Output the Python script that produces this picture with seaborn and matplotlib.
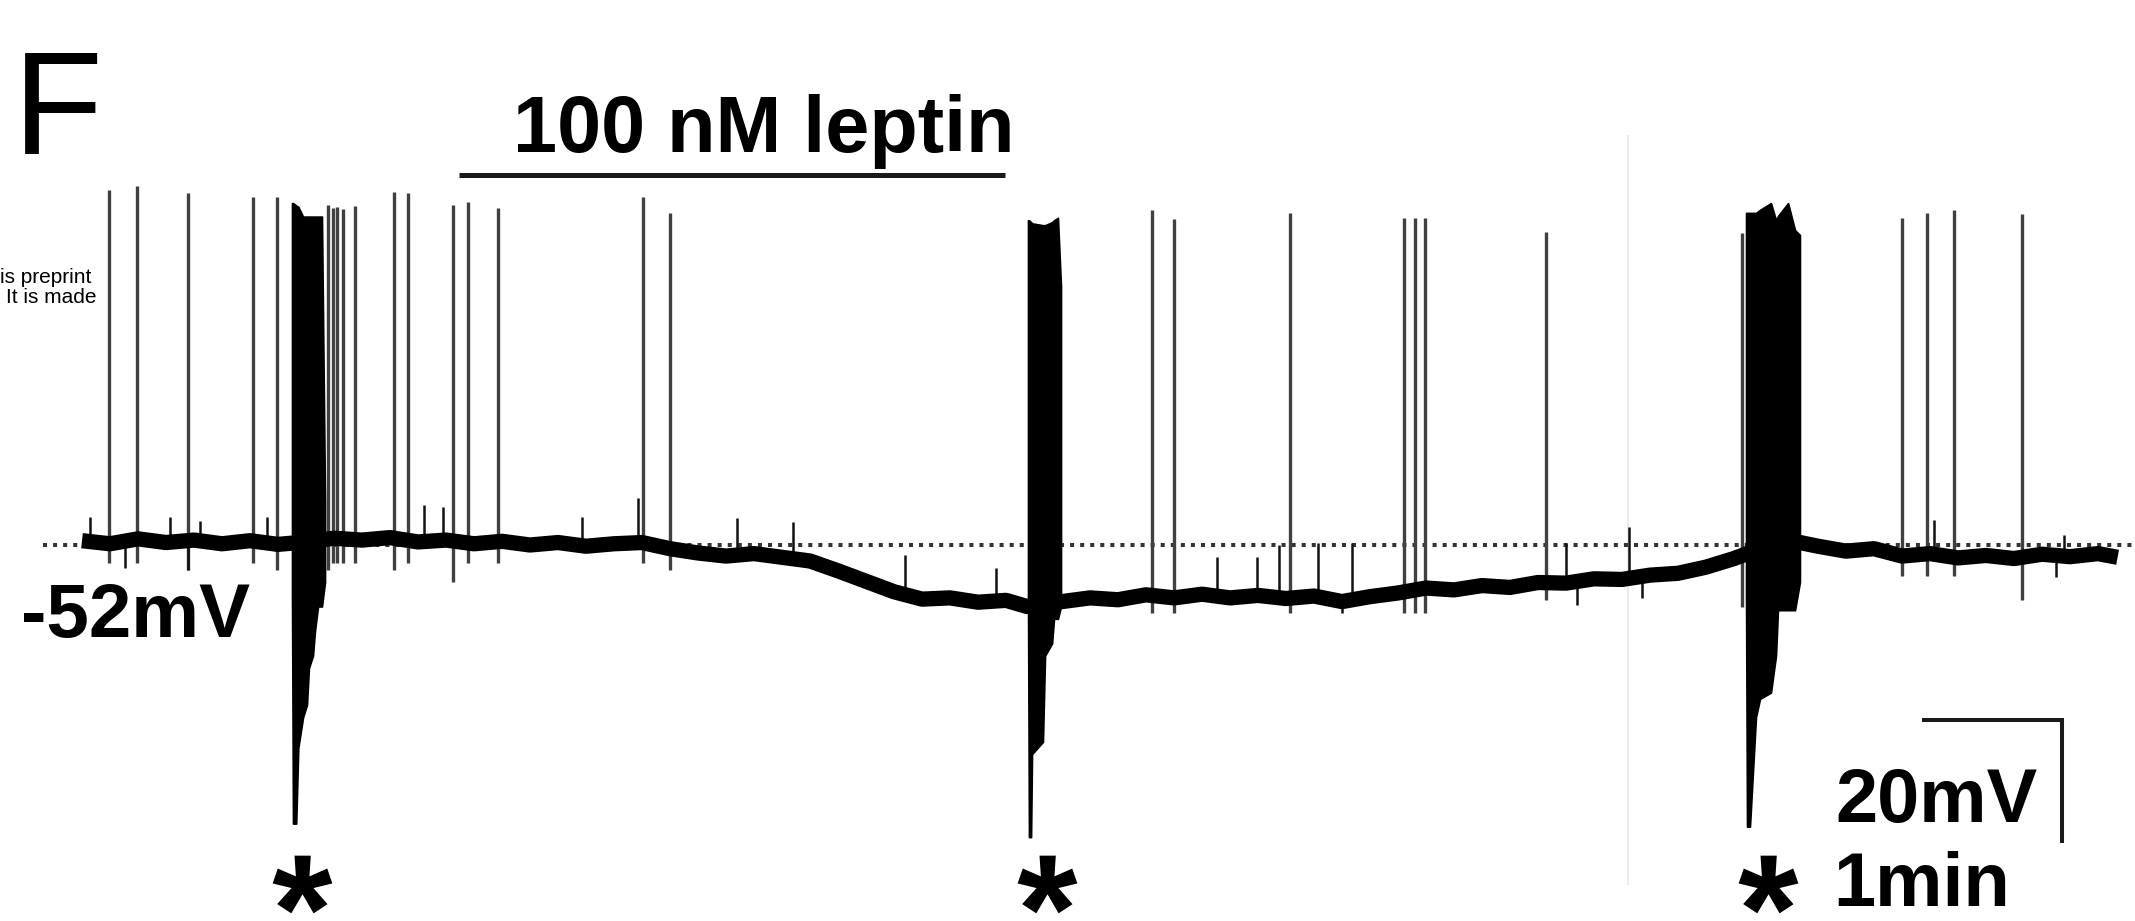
import numpy as np
import matplotlib
matplotlib.use("Agg")
import matplotlib.pyplot as plt
import seaborn as sns
from matplotlib.path import Path
from matplotlib.textpath import TextPath
from matplotlib.font_manager import FontProperties

# membrane potential trace (time in min, voltage in mV)
base_t = [0.00, 0.20, 0.40, 0.60, 0.80, 1.00, 1.20, 1.40, 1.60, 1.80, 2.00, 2.20,
          2.40, 2.60, 2.80, 3.00, 3.20, 3.40, 3.60, 3.80, 4.00, 4.20, 4.40, 4.60,
          4.80, 5.00, 5.20, 5.40, 5.60, 5.80, 6.00, 6.20, 6.40, 6.60, 6.75, 7.00,
          7.20, 7.40, 7.60, 7.80, 8.00, 8.20, 8.40, 8.60, 8.80, 9.00, 9.20, 9.40,
          9.60, 9.80, 10.00, 10.20, 10.40, 10.60, 10.80, 11.00, 11.20, 11.40, 11.60, 11.80,
          12.00, 12.25, 12.40, 12.60, 12.80, 13.00, 13.20, 13.40, 13.60, 13.80, 14.00, 14.20,
          14.40, 14.54]
base_v = [-51.3, -51.8, -51.0, -51.6, -51.2, -51.8, -51.3, -51.9, -51.5, -50.9, -51.2, -50.8,
          -51.5, -51.2, -51.8, -51.4, -52.0, -51.6, -52.2, -51.8, -51.6, -52.6, -53.3, -53.8,
          -53.4, -54.0, -54.6, -56.2, -57.9, -59.6, -60.8, -60.6, -61.3, -61.0, -62.0, -61.2,
          -60.6, -60.9, -60.1, -60.6, -60.0, -60.6, -60.2, -60.7, -60.3, -61.2, -60.4, -59.8,
          -59.0, -59.3, -58.6, -58.9, -58.1, -58.2, -57.5, -57.6, -56.9, -56.6, -55.6, -54.2,
          -52.5, -51.5, -52.2, -53.0, -52.6, -53.8, -53.4, -54.1, -53.7, -54.2, -53.5, -53.9,
          -53.4, -54.0]

# single action potentials
spike_t = [0.19, 0.39, 0.76, 1.22, 1.39, 1.76, 1.79, 1.82, 1.865, 1.95, 2.225, 2.33,
           2.65, 2.76, 2.97, 4.01, 4.20, 7.64, 7.80, 8.63, 9.44, 9.52, 9.59, 10.46,
           11.855, 13.00, 13.18, 13.37, 13.86]
spike_peak = [5.7, 6.3, 5.2, 4.6, 4.6, 3.3, 2.8, 3.0, 2.6, 3.1, 5.4, 5.2,
              3.3, 3.8, 2.8, 4.6, 2.0, 2.4, 1.0, 2.0, 1.2, 1.2, 1.2, -1.1,
              -1.3, 1.2, 2.0, 2.5, 1.8]
spike_trough = [-55, -55, -56, -55, -56, -56, -55, -55, -55, -55, -56, -55,
                -58, -55, -55, -55, -56, -63, -63, -63, -63, -63, -63, -61,
                -62, -57, -57, -57, -61]

# small blips riding on the baseline
blip_t = [0.057, 0.31, 0.63, 0.76, 0.84, 1.32, 2.44, 2.58, 3.57, 3.97, 4.68, 5.08,
          5.88, 6.53, 8.11, 8.39, 8.55, 8.83, 9.00, 9.07, 10.60, 10.68, 11.05, 11.14,
          13.23, 14.10, 14.16]
blip_lo = [-52, -55.8, -52, -56, -52, -52, -52, -52, -52, -52, -53, -54,
           -60, -61, -60, -60, -60, -60, -63, -60, -58, -61.8, -57, -60.6,
           -54, -57.2, -54]
blip_hi = [-47.4, -51, -47.5, -51, -48.1, -47.4, -45.5, -45.8, -47.4, -44.4, -47.6, -48.2,
           -53.6, -55.8, -54.0, -54.0, -52.0, -51.7, -60, -51.7, -51.7, -57, -49.0, -57,
           -47.9, -54, -50.3]

# high-frequency bursts (envelopes)
burst1_t = [1.500, 1.507, 1.530, 1.545, 1.579, 1.607, 1.621, 1.650, 1.664, 1.686, 1.714, 1.736]
burst1_top = [3.6, 3.6, 3.2, 3.0, 1.4, 1.4, 1.4, 1.4, 1.4, 1.4, 1.4, -45]
burst1_bot = [-60, -97.3, -97.3, -85, -80, -78, -72, -70, -66, -62, -62, -58]

burst2_t = [6.757, 6.764, 6.779, 6.786, 6.864, 6.879, 6.929, 6.943, 6.971, 6.993]
burst2_top = [0.8, 0.8, 0.5, 0.3, 0.0, 0.0, 0.5, 0.8, 1.2, -10]
burst2_bot = [-60, -99.5, -99.5, -86, -84, -70, -68, -64, -64, -62]

burst3_t = [11.886, 11.893, 11.914, 11.957, 11.986, 12.064, 12.100, 12.114, 12.186, 12.236, 12.271]
burst3_top = [2.0, 2.0, 2.0, 2.0, 2.5, 3.6, 0.8, 1.5, 3.6, -0.8, -1.6]
burst3_bot = [-60, -97.8, -97.8, -80, -77, -76, -70, -62.6, -62.6, -62.6, -58]

asterisk_t = [1.57, 6.89, 12.04]
asterisk_v = [-107.1, -107.1, -107.1]

rest_v = -52
leptin_on, leptin_off, leptin_v = 2.69, 6.59, 8.2
scale_t0, scale_v0, scale_dt, scale_dv = 13.14, -80.45, 1, 20
artifact_t, artifact_top, artifact_bot = 11.04, 14.7, -107.3

# pixel geometry of the panel
W, H = 2135, 921
X0, PX_MIN = 82, 140
Y0, PX_MV = 545, 6.15

sns.set_style("white")
plt.rcParams['font.family'] = ['Liberation Sans', 'DejaVu Sans']

fig = plt.figure(figsize=(W / 100, H / 100), dpi=100)
ax = fig.add_axes([0, 0, 1, 1])
ax.set_xlim(-X0 / PX_MIN, (W - X0) / PX_MIN)
ax.set_ylim(rest_v - (H - Y0) / PX_MV, rest_v + Y0 / PX_MV)
ax.axis('off')

# faint scan artefact line
ax.vlines(artifact_t, artifact_bot, artifact_top, color='#ececec', lw=1.5, zorder=0)

# resting potential reference
ax.plot([-0.279, (W - X0) / PX_MIN], [rest_v, rest_v], color='#333333', lw=2.9,
        linestyle=(0, (1, 1.5)), dash_capstyle='butt', zorder=1)

ax.vlines(spike_t, spike_trough, spike_peak, color='#404040', lw=2.4, zorder=2)
ax.vlines(blip_t, blip_lo, blip_hi, color='#111111', lw=1.8, zorder=2)

for bt, btop, bbot in [(burst1_t, burst1_top, burst1_bot),
                       (burst2_t, burst2_top, burst2_bot),
                       (burst3_t, burst3_top, burst3_bot)]:
    ax.fill_between(bt, bbot, btop, color='black', lw=1.2, zorder=3)

sns.lineplot(x=base_t, y=base_v, color='black', lw=11, estimator=None,
             solid_capstyle='butt', solid_joinstyle='round', ax=ax, zorder=4)

# leptin application bar
ax.plot([leptin_on, leptin_off], [leptin_v, leptin_v], color='#1a1a1a', lw=3.6,
        solid_capstyle='butt')

# scale bar
ax.plot([scale_t0, scale_t0 + scale_dt, scale_t0 + scale_dt],
        [scale_v0, scale_v0, scale_v0 - scale_dv], color='#1a1a1a', lw=2.9,
        solid_joinstyle='miter', solid_capstyle='butt')

# asterisk markers built from the font glyph
tp = TextPath((0, 0), '*', size=100, prop=FontProperties(family='Liberation Sans', weight='bold'))
ext = tp.get_extents()
verts = tp.vertices - [(ext.x0 + ext.x1) / 2, (ext.y0 + ext.y1) / 2]
codes = tp.codes
for i, c in enumerate(codes):
    if c == Path.CLOSEPOLY:
        verts[i] = verts[i - 1]
star = Path(verts, codes)
ax.plot(asterisk_t, asterisk_v, linestyle='none', marker=star, markersize=43,
        color='black', markeredgewidth=0)


def ftext(x, y, s, **kw):
    fig.text(x / W, 1 - y / H, s, va='baseline', color='black', **kw)


ftext(12.5, 154, 'F', fontsize=106)
ftext(764, 152, '100 nM leptin', fontsize=57, fontweight='bold', ha='center')
ftext(21, 637, '-52mV', fontsize=55, fontweight='bold')
ftext(1835, 822, '20mV', fontsize=54.5, fontweight='bold')
ftext(1833, 906, '1min', fontsize=54.5, fontweight='bold')
ftext(91, 283, 'is preprint', fontsize=15, ha='right')
ftext(97, 303, 'It is made', fontsize=15, ha='right')

fig.savefig('out.png', dpi=100, facecolor='white')
plt.close(fig)
